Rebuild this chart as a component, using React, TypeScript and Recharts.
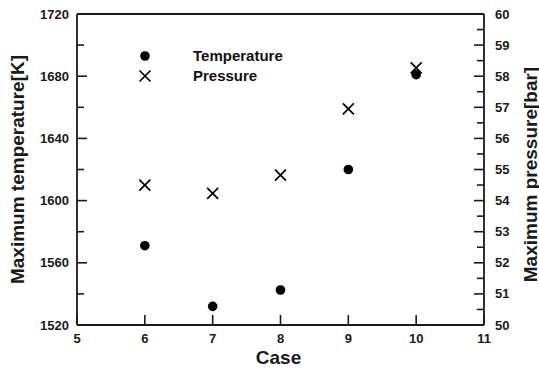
import React from 'react';
import { ScatterChart, Scatter, XAxis, YAxis, ReferenceLine, Legend, Label } from 'recharts';

const cases = [6, 7, 8, 9, 10];
const temperature = [1571, 1532, 1542.5, 1620, 1681];
const pressure = [54.5, 54.23, 54.82, 56.95, 58.27];

const xTicks = [5, 6, 7, 8, 9, 10, 11];
const tempTicks = [1520, 1540, 1560, 1580, 1600, 1620, 1640, 1660, 1680, 1700, 1720];
const tempLabels = [1520, 1560, 1600, 1640, 1680, 1720];
const presTicks = [50, 50.5, 51, 51.5, 52, 52.5, 53, 53.5, 54, 54.5, 55, 55.5, 56, 56.5, 57, 57.5, 58, 58.5, 59, 59.5, 60];
const presLabels = [50, 51, 52, 53, 54, 55, 56, 57, 58, 59, 60];

const tempData = cases.map((c, i) => ({ case: c, value: temperature[i] }));
const presData = cases.map((c, i) => ({ case: c, value: pressure[i] }));

const FONT = "Arial, 'Liberation Sans', sans-serif";
const INK = '#1a1a1a';

const LeftTick = (props: any) => {
  const { x, y, payload } = props;
  const v = payload.value;
  const major = tempLabels.includes(v);
  return (
    <g>
      <line x1={x} x2={x + (major ? 10 : 7)} y1={y} y2={y} stroke={INK} strokeWidth={1.6} />
      {major && (
        <text x={x - 8} y={y} textAnchor="end" dominantBaseline="central" fontFamily={FONT} fontWeight="bold" fontSize={13} fill={INK}>
          {v}
        </text>
      )}
    </g>
  );
};

const RightTick = (props: any) => {
  const { x, y, payload } = props;
  const v = payload.value;
  const major = presLabels.includes(v);
  return (
    <g>
      <line x1={x} x2={x - (major ? 10 : 7)} y1={y} y2={y} stroke={INK} strokeWidth={1.6} />
      {major && (
        <text x={x + 11} y={y} textAnchor="start" dominantBaseline="central" fontFamily={FONT} fontWeight="bold" fontSize={13} fill={INK}>
          {v}
        </text>
      )}
    </g>
  );
};

const BottomTick = (props: any) => {
  const { x, y, payload } = props;
  return (
    <g>
      <line x1={x} x2={x} y1={y} y2={y - 10} stroke={INK} strokeWidth={1.6} />
      <text x={x} y={y + 13} textAnchor="middle" dominantBaseline="central" fontFamily={FONT} fontWeight="bold" fontSize={13} fill={INK}>
        {payload.value}
      </text>
    </g>
  );
};

const Dot = (props: any) => <circle cx={props.cx} cy={props.cy} r={4.8} fill="#000" />;
const Cross = (props: any) => {
  const { cx, cy } = props;
  const s = 5.5;
  return (
    <path d={`M${cx - s},${cy - s}L${cx + s},${cy + s}M${cx + s},${cy - s}L${cx - s},${cy + s}`} stroke="#000" strokeWidth={1.7} fill="none" />
  );
};

const LegendContent = () => (
  <div style={{ fontFamily: FONT, fontSize: 15, fontWeight: 'bold', color: '#111' }}>
    <div style={{ display: 'flex', alignItems: 'center', height: 20 }}>
      <svg width={20} height={20}><circle cx={10} cy={10} r={4.8} fill="#000" /></svg>
      <span style={{ marginLeft: 38, lineHeight: '20px' }}>Temperature</span>
    </div>
    <div style={{ display: 'flex', alignItems: 'center', height: 20 }}>
      <svg width={20} height={20}><path d="M4.5,4.5L15.5,15.5M15.5,4.5L4.5,15.5" stroke="#000" strokeWidth={1.7} /></svg>
      <span style={{ marginLeft: 38, lineHeight: '20px' }}>Pressure</span>
    </div>
  </div>
);

const LeftTitle = (props: any) => {
  const vb = props.viewBox;
  const cx = vb.x + 17;
  const cy = vb.y + vb.height / 2;
  return (
    <text x={cx} y={cy} transform={`rotate(-90, ${cx}, ${cy})`} textAnchor="middle" dominantBaseline="central" fontFamily={FONT} fontWeight="bold" fontSize={19} fill={INK}>
      Maximum temperature[K]
    </text>
  );
};

const RightTitle = (props: any) => {
  const vb = props.viewBox;
  const cx = vb.x + 46;
  const cy = vb.y + vb.height / 2 + 5;
  return (
    <text x={cx} y={cy} transform={`rotate(-90, ${cx}, ${cy})`} textAnchor="middle" dominantBaseline="central" fontFamily={FONT} fontWeight="bold" fontSize={19} fill={INK}>
      Maximum pressure[bar]
    </text>
  );
};

const BottomTitle = (props: any) => {
  const vb = props.viewBox;
  const cx = vb.x + vb.width / 2 - 2;
  const cy = vb.y + 32;
  return (
    <text x={cx} y={cy} textAnchor="middle" dominantBaseline="central" fontFamily={FONT} fontWeight="bold" fontSize={19} fill={INK}>
      Case
    </text>
  );
};

export default function App() {
  return (
    <div style={{ position: 'absolute', left: 0, top: 0, background: '#fff' }}>
      <ScatterChart width={539} height={369} margin={{ top: 14, right: 0, bottom: 0, left: 0 }}>
        <XAxis
          dataKey="case"
          type="number"
          domain={[5, 11]}
          ticks={xTicks}
          interval={0}
          height={44}
          tickSize={0}
          tickMargin={0}
          tickLine={false}
          tick={<BottomTick />}
          axisLine={{ stroke: INK, strokeWidth: 1.8 }}
        >
          <Label content={<BottomTitle />} />
        </XAxis>
        <YAxis
          yAxisId="left"
          dataKey="value"
          type="number"
          domain={[1520, 1720]}
          ticks={tempTicks}
          interval={0}
          width={77}
          tickSize={0}
          tickMargin={0}
          tickLine={false}
          tick={<LeftTick />}
          axisLine={{ stroke: INK, strokeWidth: 1.8 }}
        >
          <Label content={<LeftTitle />} />
        </YAxis>
        <YAxis
          yAxisId="right"
          orientation="right"
          dataKey="value"
          type="number"
          domain={[50, 60]}
          ticks={presTicks}
          interval={0}
          width={55}
          tickSize={0}
          tickMargin={0}
          tickLine={false}
          tick={<RightTick />}
          axisLine={{ stroke: INK, strokeWidth: 1.8 }}
        >
          <Label content={<RightTitle />} />
        </YAxis>
        <ReferenceLine yAxisId="left" y={1720} stroke={INK} strokeWidth={1.8} ifOverflow="visible" />
        <Legend
          layout="horizontal"
          verticalAlign="middle"
          align="center"
          content={<LegendContent />}
          wrapperStyle={{ position: 'absolute', left: 135, top: 46, width: 200, height: 40 }}
        />
        <Scatter name="Temperature" data={tempData} yAxisId="left" shape={<Dot />} isAnimationActive={false} />
        <Scatter name="Pressure" data={presData} yAxisId="right" shape={<Cross />} isAnimationActive={false} />
      </ScatterChart>
    </div>
  );
}
